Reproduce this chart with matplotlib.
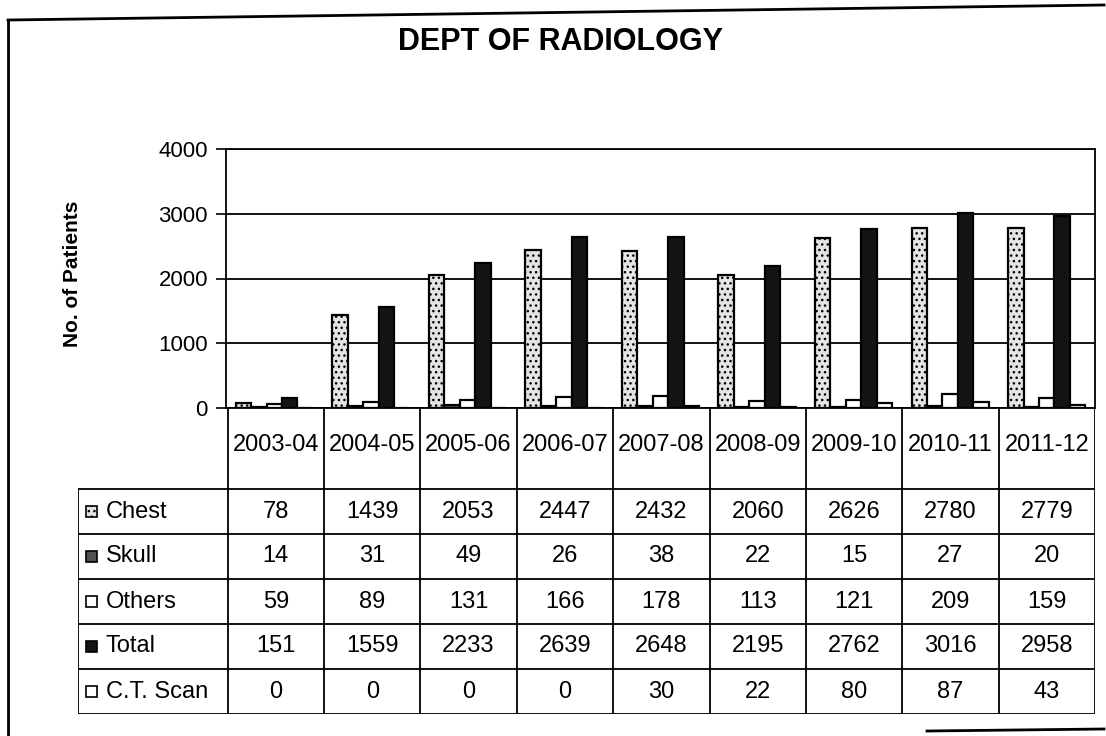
import matplotlib.pyplot as plt
from matplotlib.patches import Rectangle
from matplotlib.lines import Line2D
import numpy as np

plt.rcParams['font.family'] = ['Liberation Sans', 'DejaVu Sans']

years = ['2003-04', '2004-05', '2005-06', '2006-07', '2007-08',
         '2008-09', '2009-10', '2010-11', '2011-12']
chest = [78, 1439, 2053, 2447, 2432, 2060, 2626, 2780, 2779]
skull = [14, 31, 49, 26, 38, 22, 15, 27, 20]
others = [59, 89, 131, 166, 178, 113, 121, 209, 159]
total = [151, 1559, 2233, 2639, 2648, 2195, 2762, 3016, 2958]
ct_scan = [0, 0, 0, 0, 30, 22, 80, 87, 43]
series_names = ['Chest', 'Skull', 'Others', 'Total', 'C.T. Scan']
series = [chest, skull, others, total, ct_scan]

styles = [
    dict(facecolor='#e4e4e4', hatch='...'),
    dict(facecolor='#505050', hatch=''),
    dict(facecolor='white', hatch=''),
    dict(facecolor='#141414', hatch=''),
    dict(facecolor='white', hatch=''),
]

W, H = 1106, 736
def fx(px):
    return px / W
def fy(py):
    return 1 - py / H

fig = plt.figure(figsize=(W / 100, H / 100), dpi=100)

# bar chart area
ax = fig.add_axes([fx(226), fy(408), fx(1095) - fx(226), fy(149) - fy(408)])
x = np.arange(len(years))
bw = 0.16
for k, (vals, st) in enumerate(zip(series, styles)):
    ax.bar(x + (k - 2) * bw, vals, bw, edgecolor='black', linewidth=1.6,
           zorder=3, **st)
ax.set_xlim(-0.5, len(years) - 0.5)
ax.set_ylim(0, 4000)
ax.set_yticks([0, 1000, 2000, 3000, 4000])
ax.set_xticks([])
ax.tick_params(axis='y', labelsize=16, length=7, width=1.2, pad=6)
ax.grid(axis='y', color='black', linewidth=1.3, zorder=0)
for s in ax.spines.values():
    s.set_linewidth(1.3)

fig.text(fx(72), fy(274), 'No. of Patients', rotation=90, fontsize=15,
         fontweight='bold', ha='center', va='center')
fig.text(fx(560), fy(42), 'DEPT OF RADIOLOGY', fontsize=22,
         fontweight='bold', ha='center', va='center')

# data table below
lab_w = (228 - 78) / 96.6
head_h = 81 / 45
n_rows = len(series)
tax = fig.add_axes([fx(78), fy(714), fx(1095) - fx(78), fy(408) - fy(714)])
tax.set_xlim(-0.5 - lab_w, len(years) - 0.5)
tax.set_ylim(head_h + n_rows, 0)
tax.axis('off')

for i in range(len(years) + 1):
    tax.vlines(i - 0.5, 0, head_h + n_rows, color='black', lw=1.3)
tax.vlines(-0.5 - lab_w, head_h, head_h + n_rows, color='black', lw=1.3)
for r in range(n_rows + 1):
    tax.hlines(head_h + r, -0.5 - lab_w, len(years) - 0.5, color='black', lw=1.3)

for i, yr in enumerate(years):
    tax.text(i, 0.82, yr, ha='center', va='center', fontsize=17)

for r, (name, vals, st) in enumerate(zip(series_names, series, styles)):
    yc = head_h + r + 0.5
    tax.add_patch(Rectangle((-0.5 - lab_w + 0.08, yc - 0.12), 0.115, 0.24,
                            edgecolor='black', lw=1.2, **st))
    tax.text(-0.5 - lab_w + 0.29, yc, name, ha='left', va='center', fontsize=17)
    for i, v in enumerate(vals):
        tax.text(i, yc, str(v), ha='center', va='center', fontsize=17)

# scanned outer frame
fig.add_artist(Line2D([fx(8), fx(1104)], [fy(20), fy(5)],
                      transform=fig.transFigure, color='black', lw=2))
fig.add_artist(Line2D([fx(8), fx(8)], [fy(20), fy(740)],
                      transform=fig.transFigure, color='black', lw=2))
fig.add_artist(Line2D([fx(927), fx(1104)], [fy(731), fy(729)],
                      transform=fig.transFigure, color='black', lw=2))

fig.savefig('out.png', dpi=100)
